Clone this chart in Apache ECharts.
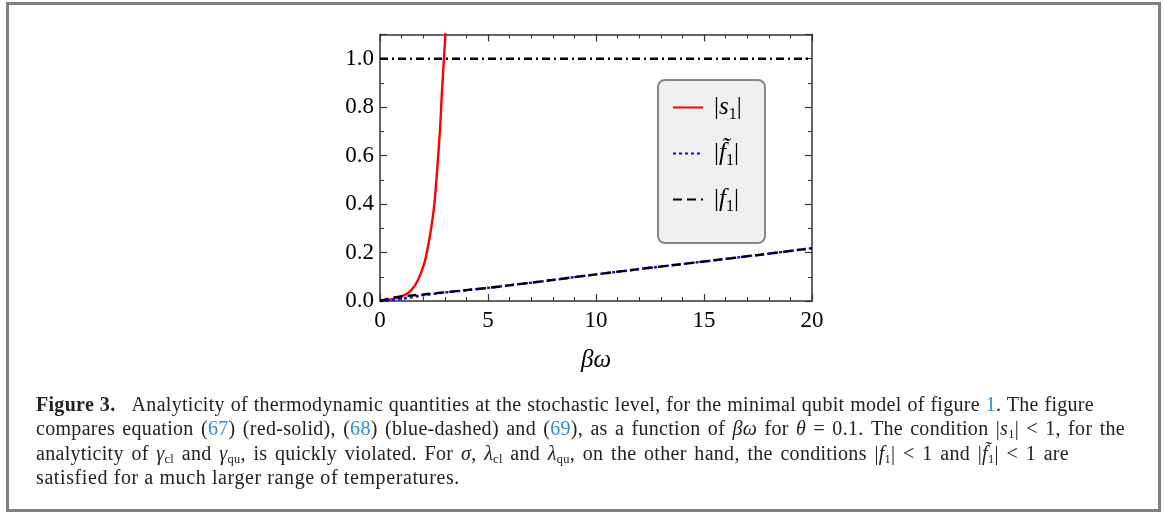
<!DOCTYPE html>
<html>
<head>
<meta charset="utf-8">
<script src="https://cdn.jsdelivr.net/npm/echarts@6/dist/echarts.min.js"></script>
<style>
  html, body { margin: 0; padding: 0; background: #fff; }
  #wrap { position: relative; width: 1165px; height: 513px; overflow: hidden; }
  #chart { position: absolute; left: 0; top: 0; width: 1165px; height: 513px; }
  #frame { position: absolute; left: 6px; top: 2px; width: 1155px; height: 510px; box-sizing: border-box; border: 3px solid #808080; pointer-events: none; }
  #caption { position: absolute; left: 36px; top: 392px; font-family: 'Liberation Serif', serif; font-size: 20px; line-height: 24.3px; color: #222; letter-spacing: 0.3px; }
  #caption .ln { white-space: nowrap; text-align: justify; text-align-last: justify; }
  #caption .ln.last { text-align: left; text-align-last: left; letter-spacing: 0.6px; }
  #caption a { color: #2b8fd6; text-decoration: none; }
  #caption i { font-style: italic; }
  #caption sub { font-size: 0.62em; vertical-align: -0.25em; line-height: 0; }
</style>
</head>
<body>
<div id="wrap">
  <div id="chart"></div>
  <div id="frame"></div>
  <div id="caption">
    <div class="ln" style="width:1058px"><b>Figure 3.</b>&nbsp;&nbsp; Analyticity of thermodynamic quantities at the stochastic level, for the minimal qubit model of figure <a>1</a>. The figure</div>
    <div class="ln" style="width:1089px">compares equation (<a>67</a>) (red-solid), (<a>68</a>) (blue-dashed) and (<a>69</a>), as a function of <i>βω</i> for <i>θ</i> = 0.1. The condition |<i>s</i><sub>1</sub>| &lt; 1, for the</div>
    <div class="ln" style="width:1033px">analyticity of <i>γ</i><sub>cl</sub> and <i>γ</i><sub>qu</sub>, is quickly violated. For <i>σ</i>, <i>λ</i><sub>cl</sub> and <i>λ</i><sub>qu</sub>, on the other hand, the conditions |<i>f</i><sub>1</sub>| &lt; 1 and |<i>f̃</i><sub>1</sub>| &lt; 1 are</div>
    <div class="ln last">satisfied for a much larger range of temperatures.</div>
  </div>
</div>
<script>
// ---- data ----
const xTicks = [0, 5, 10, 15, 20];
const yTicks = [0.0, 0.2, 0.4, 0.6, 0.8, 1.0];

const s1_x = [0, 0.4, 0.7, 1.15, 1.45, 1.75, 2.05, 2.2, 2.35, 2.45, 2.55, 2.67, 2.78, 2.86, 2.96, 3.05];
const s1_y = [0, 0.004, 0.011, 0.025, 0.045, 0.085, 0.155, 0.215, 0.29, 0.35, 0.43, 0.57, 0.71, 0.85, 1.0, 1.13];

const ft1_x = [0, 0.5, 1, 1.5, 2, 3, 5, 7.5, 10, 12.5, 15, 17.5, 20];
const ft1_y = [0, 0.004, 0.009, 0.016, 0.024, 0.035, 0.054, 0.081, 0.11, 0.137, 0.163, 0.19, 0.218];

const f1_x = [0, 0.3, 0.6, 1, 2, 3, 5, 7.5, 10, 12.5, 15, 17.5, 20];
const f1_y = [0, 0.008, 0.014, 0.019, 0.027, 0.036, 0.054, 0.081, 0.11, 0.137, 0.163, 0.19, 0.218];

const ref_x = [0, 20];
const ref_y = [1, 1];

const names = ['s1', 'ft1', 'f1'];
// ---------------------------------------

const zip = (xs, ys) => xs.map((x, i) => [x, ys[i]]);
const FONT = "'Liberation Serif', serif";
const AX = '#333';

const legendFmt = {
  s1: '{b||}{t|s}{sub|1}{b||}',
  ft1: '{b||}{t|f\u0303}{sub|1}{b||}',
  f1: '{b||}{t|f}{sub|1}{b||}'
};

function xAx(pos) {
  return {
    type: 'value', min: 0, max: 20, interval: 5, position: pos,
    axisLine: { show: true, onZero: false, lineStyle: { color: AX, width: 1.5 } },
    axisTick: { show: true, inside: true, length: 7, lineStyle: { color: AX, width: 1.2 } },
    minorTick: { show: true, splitNumber: 5, length: 4, lineStyle: { color: AX, width: 1 } },
    splitLine: { show: false },
    axisLabel: pos === 'bottom' ? { show: true, fontFamily: FONT, fontSize: 23, color: '#000', margin: 8 } : { show: false },
    name: pos === 'bottom' ? 'βω' : '',
    nameLocation: 'middle', nameGap: 47,
    nameTextStyle: { fontFamily: FONT, fontSize: 25, fontStyle: 'italic', color: '#000' }
  };
}
function yAx(pos) {
  return {
    type: 'value', min: 0, max: 1.1, interval: 0.2, position: pos,
    axisLine: { show: true, onZero: false, lineStyle: { color: AX, width: 1.5 } },
    axisTick: { show: true, inside: true, length: 7, lineStyle: { color: AX, width: 1.2 } },
    minorTick: { show: true, splitNumber: 2, length: 4, lineStyle: { color: AX, width: 1 } },
    splitLine: { show: false },
    axisLabel: pos === 'left' ? {
      show: true, fontFamily: FONT, fontSize: 23, color: '#000', margin: 6, showMaxLabel: false,
      formatter: v => (yTicks.some(t => Math.abs(t - v) < 1e-9) ? v.toFixed(1) : '')
    } : { show: false }
  };
}

const chart = echarts.init(document.getElementById('chart'), null, { renderer: 'canvas' });
chart.setOption({
  animation: false,
  backgroundColor: 'transparent',
  grid: { left: 380, right: 353, top: 34.5, bottom: 212, containLabel: false },
  xAxis: [xAx('bottom'), xAx('top')],
  yAxis: [yAx('left'), yAx('right')],
  graphic: [{
    type: 'rect', left: 657, top: 79, z: 5,
    shape: { width: 107, height: 163, r: 7 },
    style: { fill: '#f0f0f0', stroke: '#888', lineWidth: 2 }
  }],
  legend: {
    data: names, orient: 'vertical', left: 672, top: 95, z: 10,
    itemWidth: 30, itemHeight: 14, itemGap: 18.5, padding: 0,
    backgroundColor: 'transparent',
    itemStyle: { opacity: 0, color: 'transparent', borderWidth: 0 },
    formatter: n => legendFmt[n],
    textStyle: {
      padding: [0, 0, 0, 6],
      rich: {
        b: { fontFamily: FONT, fontSize: 25, color: '#000', lineHeight: 30 },
        t: { fontFamily: FONT, fontSize: 25, fontStyle: 'italic', color: '#000', lineHeight: 30 },
        sub: { fontFamily: FONT, fontSize: 16, color: '#000', verticalAlign: 'bottom', lineHeight: 15 }
      }
    }
  },
  series: [
    { name: 'ref', type: 'line', data: zip(ref_x, ref_y), symbol: 'none', silent: true,
      lineStyle: { color: '#000', width: 2.6, type: [8, 4, 2, 4] }, z: 1 },
    { name: 's1', type: 'line', data: zip(s1_x, s1_y), symbol: 'none', smooth: 0.3,
      lineStyle: { color: '#ff0000', width: 2.4 }, itemStyle: { color: '#ff0000' }, z: 2 },
    { name: 'ft1', type: 'line', data: zip(ft1_x, ft1_y), symbol: 'none',
      lineStyle: { color: '#0000ff', width: 2.4, type: [3, 3] }, itemStyle: { color: '#0000ff' }, z: 3 },
    { name: 'f1', type: 'line', data: zip(f1_x, f1_y), symbol: 'none',
      lineStyle: { color: '#000', width: 2.4, type: [9, 5] }, itemStyle: { color: '#000' }, z: 4 }
  ]
});
</script>
</body>
</html>
